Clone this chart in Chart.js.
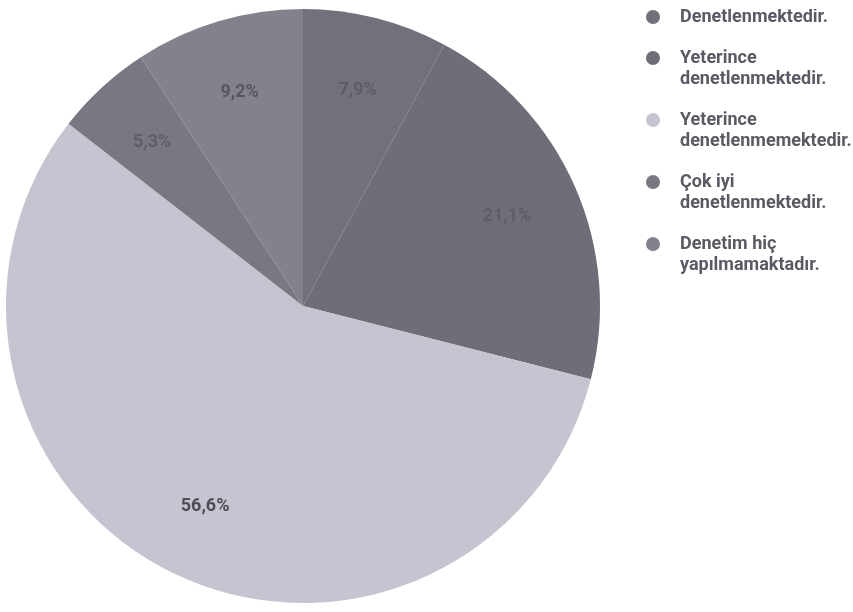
<!DOCTYPE html>
<html>
<head>
<meta charset="utf-8">
<script src="https://cdn.jsdelivr.net/npm/chart.js@4.4.1/dist/chart.umd.min.js"></script>
<style>
  html, body { margin: 0; padding: 0; background: #fff; }
</style>
</head>
<body>
<canvas id="pieChart" width="853" height="612"></canvas>
<script>
// categories (legend text, split on lines like the original)
const categories = [
  ['Denetlenmektedir.'],
  ['Yeterince', 'denetlenmektedir.'],
  ['Yeterince', 'denetlenmemektedir.'],
  ['Çok iyi', 'denetlenmektedir.'],
  ['Denetim hiç', 'yapılmamaktadır.']
];
// percentages
const values = [7.9, 21.1, 56.6, 5.3, 9.2];
const sliceColors = ['#70717a', '#6d6e77', '#c5c5d1', '#777882', '#81828c'];
const labelColors = ['#5c5d66', '#5c5d66', '#4d4d58', '#5e5f68', '#55565f'];

const fontFamily = "Roboto, 'Noto Sans', sans-serif";
Chart.defaults.font.family = fontFamily;

// little canvas used as legend marker (lets the circle sit apart from the text)
function makeMarker(color) {
  const c = document.createElement('canvas');
  c.width = 60;
  c.height = 18;
  const g = c.getContext('2d');
  g.fillStyle = color;
  g.beginPath();
  g.arc(48, 9, 7, 0, Math.PI * 2);
  g.fill();
  return c;
}

// draw the percentage text on each slice
const sliceLabels = {
  id: 'sliceLabels',
  afterDatasetsDraw(chart) {
    const ctx = chart.ctx;
    const meta = chart.getDatasetMeta(0);
    ctx.save();
    ctx.font = 'bold 18px ' + fontFamily;
    ctx.textAlign = 'center';
    ctx.textBaseline = 'middle';
    meta.data.forEach((arc, i) => {
      const p = arc.getProps(['x', 'y', 'startAngle', 'endAngle', 'outerRadius'], true);
      const mid = (p.startAngle + p.endAngle) / 2;
      const r = p.outerRadius * 0.75;
      ctx.fillStyle = labelColors[i];
      ctx.fillText(values[i].toFixed(1).replace('.', ',') + '%',
        p.x + Math.cos(mid) * r, p.y + Math.sin(mid) * r);
    });
    ctx.restore();
  }
};

new Chart(document.getElementById('pieChart'), {
  type: 'pie',
  data: {
    labels: categories,
    datasets: [{
      data: values,
      backgroundColor: sliceColors,
      borderWidth: 0
    }]
  },
  options: {
    responsive: false,
    animation: false,
    layout: { padding: { left: 6, right: 0, top: 9, bottom: 9 } },
    plugins: {
      tooltip: { enabled: false },
      legend: {
        position: 'right',
        align: 'start',
        maxWidth: 253,
        labels: {
          usePointStyle: true,
          pointStyleWidth: 72,
          padding: -1,
          color: '#5a5a64',
          font: { size: 18, weight: 'bold', lineHeight: 1.1667 },
          generateLabels(chart) {
            const items = Chart.overrides.pie.plugins.legend.labels.generateLabels(chart);
            items.forEach((item, i) => {
              item.text = categories[i].concat(['']);
              item.pointStyle = makeMarker(sliceColors[i]);
            });
            return items;
          }
        }
      }
    }
  },
  plugins: [sliceLabels]
});
</script>
</body>
</html>
